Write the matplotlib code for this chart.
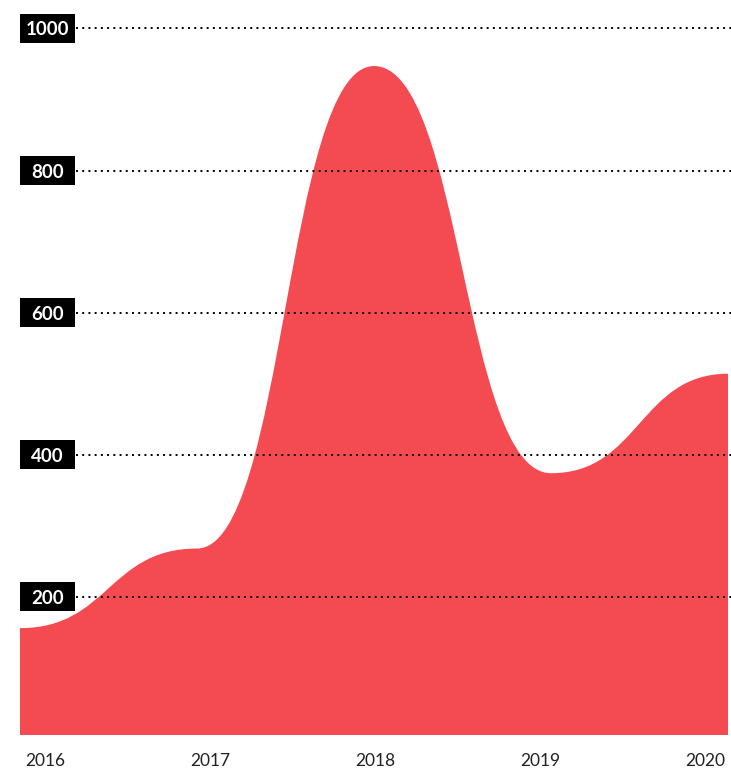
import numpy as np
import matplotlib.pyplot as plt
from matplotlib.path import Path
from matplotlib.patches import PathPatch, Rectangle
from matplotlib.transforms import blended_transform_factory

years = ["2016", "2017", "2018", "2019", "2020"]
values = [156, 268, 947, 374, 514]
y_ticks = [200, 400, 600, 800, 1000]

RED = "#f34b51"
plt.rcParams['font.family'] = ['Lato', 'DejaVu Sans']

x = np.arange(len(values), dtype=float)
y = np.array(values, dtype=float)

# bump curve: horizontal tangent at every point (like d3.curveBumpX)
verts = [(x[0], 0), (x[0], y[0])]
codes = [Path.MOVETO, Path.LINETO]
for i in range(len(x) - 1):
    xm = (x[i] + x[i + 1]) / 2
    verts += [(xm, y[i]), (xm, y[i + 1]), (x[i + 1], y[i + 1])]
    codes += [Path.CURVE4] * 3
verts += [(x[-1], 0), (x[0], 0)]
codes += [Path.LINETO, Path.CLOSEPOLY]

W, H = 731, 769
fig = plt.figure(figsize=(W / 100, H / 100), dpi=100)
ax = fig.add_axes([20 / W, 34 / H, 708 / W, 715 / H])
ax.set_xlim(0, 4)
ax.set_ylim(5.6, 1011.8)

ax.add_patch(PathPatch(Path(verts, codes), facecolor=RED, edgecolor="none", zorder=1))

# dotted grid + black label boxes
gtr = blended_transform_factory(fig.transFigure, ax.transData)
for v in y_ticks:
    ax.plot([76 / W, 731 / W], [v, v], transform=gtr, color="black",
            linestyle=(0, (1, 2.2)), linewidth=1.4, clip_on=False, zorder=3)
    ax.add_patch(Rectangle((20 / W, v - 20.5), 55 / W, 41, transform=gtr,
                           facecolor="black", edgecolor="none", clip_on=False, zorder=4))
    ax.text(47.5 / W, v, str(v), transform=gtr, color="white", fontsize=13.5,
            fontweight="bold", ha="center", va="center_baseline", zorder=5)

# year labels
label_pos = [(px - 20) / 177 for px in [45, 210, 375, 540, 705]]
ax.set_xticks(label_pos)
ax.set_xticklabels(years, fontsize=12.5, color="#222222")
ax.tick_params(axis="x", length=0, pad=13)
ax.set_yticks([])
for s in ax.spines.values():
    s.set_visible(False)

fig.savefig("out.png", dpi=100)
